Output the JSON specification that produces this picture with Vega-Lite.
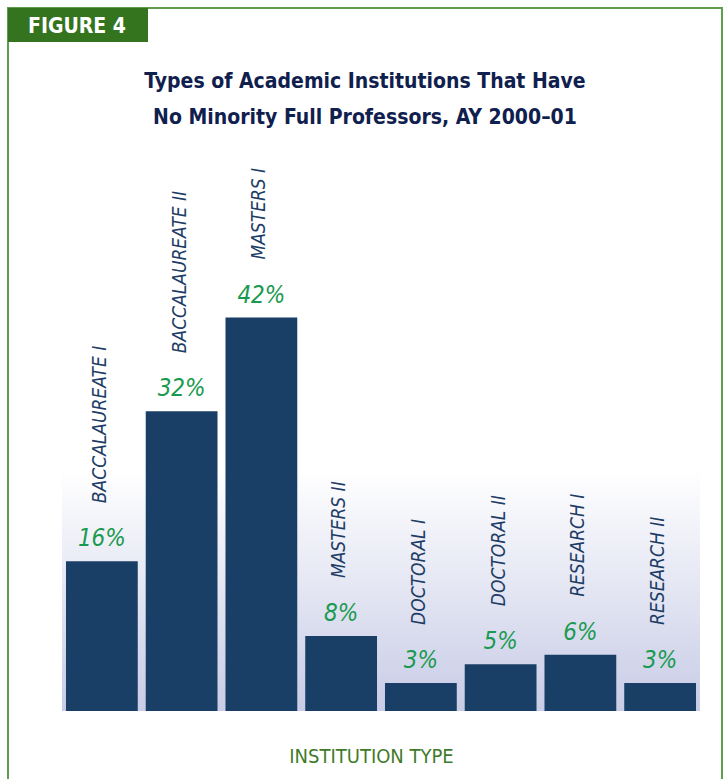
{
  "$schema": "https://vega.github.io/schema/vega-lite/v6.json",
  "autosize": "none",
  "width": 638,
  "height": 562,
  "padding": {"left": 62, "top": 149, "right": 25, "bottom": 68},
  "background": "white",
  "view": {
    "stroke": null,
    "fill": {
      "gradient": "linear",
      "x1": 0, "y1": 0, "x2": 0, "y2": 1,
      "stops": [
        {"offset": 0, "color": "#ffffff"},
        {"offset": 0.57, "color": "#ffffff"},
        {"offset": 1, "color": "#c8cce6"}
      ]
    }
  },
  "title": {
    "text": ["Types of Academic Institutions That Have", "No Minority Full Professors, AY 2000–01"],
    "font": "Liberation Sans Narrow, DejaVu Sans Condensed, sans-serif",
    "fontSize": 21,
    "fontWeight": "bold",
    "color": "#10204e",
    "lineHeight": 36,
    "anchor": "middle",
    "frame": "group",
    "dx": -16,
    "offset": -121
  },
  "data": {
    "values": [
      {"order": 1, "type": "BACCALAUREATE I", "share": 0.16},
      {"order": 2, "type": "BACCALAUREATE II", "share": 0.32},
      {"order": 3, "type": "MASTERS I", "share": 0.42},
      {"order": 4, "type": "MASTERS II", "share": 0.08},
      {"order": 5, "type": "DOCTORAL I", "share": 0.03},
      {"order": 6, "type": "DOCTORAL II", "share": 0.05},
      {"order": 7, "type": "RESEARCH I", "share": 0.06},
      {"order": 8, "type": "RESEARCH II", "share": 0.03}
    ]
  },
  "encoding": {
    "x": {
      "field": "type",
      "type": "nominal",
      "sort": {"field": "order", "op": "min"},
      "scale": {"paddingInner": 0.1, "paddingOuter": 0.05},
      "axis": {
        "title": "INSTITUTION TYPE",
        "labels": false,
        "ticks": false,
        "domain": false,
        "titleFont": "Liberation Sans Narrow, DejaVu Sans Condensed, sans-serif",
        "titleFontSize": 20,
        "titleFontWeight": "normal",
        "titleColor": "#3f7a2a",
        "titleBaseline": "alphabetic",
        "titleAnchor": "middle",
        "titleX": 309,
        "titleY": 51
      }
    },
    "y": {
      "field": "share",
      "type": "quantitative",
      "scale": {"domain": [0, 0.6], "nice": false},
      "axis": null
    }
  },
  "layer": [
    {
      "mark": {"type": "bar", "color": "#1a3f66"}
    },
    {
      "mark": {
        "type": "text",
        "font": "Liberation Sans Narrow, DejaVu Sans Condensed, sans-serif",
        "fontSize": 24,
        "fontStyle": "italic",
        "color": "#1a9a50",
        "baseline": "alphabetic",
        "align": "center",
        "dy": -15
      },
      "encoding": {"text": {"field": "share", "type": "quantitative", "format": ".0%"}}
    },
    {
      "mark": {
        "type": "text",
        "font": "Liberation Sans Narrow, DejaVu Sans Condensed, sans-serif",
        "fontSize": 19,
        "fontStyle": "italic",
        "color": "#1d3d66",
        "baseline": "middle",
        "align": "left",
        "angle": 270,
        "dx": 58,
        "dy": -2
      },
      "encoding": {"text": {"field": "type", "type": "nominal"}}
    },
    {
      "data": {"values": [{"label": "FIGURE 4"}]},
      "mark": {"type": "rect", "fill": null, "stroke": "#5f9e50", "strokeWidth": 2},
      "encoding": {
        "x": {"value": -54}, "x2": {"value": 660},
        "y": {"value": -141}, "y2": {"value": 660}
      }
    },
    {
      "data": {"values": [{"label": "FIGURE 4"}]},
      "mark": {"type": "rect", "fill": "#34741f"},
      "encoding": {
        "x": {"value": -54}, "x2": {"value": 86},
        "y": {"value": -141}, "y2": {"value": -107}
      }
    },
    {
      "data": {"values": [{"label": "FIGURE 4"}]},
      "mark": {
        "type": "text",
        "font": "Liberation Sans Narrow, DejaVu Sans Condensed, sans-serif",
        "fontSize": 21,
        "fontWeight": "bold",
        "color": "#ffffff",
        "align": "center",
        "baseline": "alphabetic"
      },
      "encoding": {
        "x": {"value": 15}, "y": {"value": -116},
        "text": {"field": "label", "type": "nominal"}
      }
    }
  ]
}
